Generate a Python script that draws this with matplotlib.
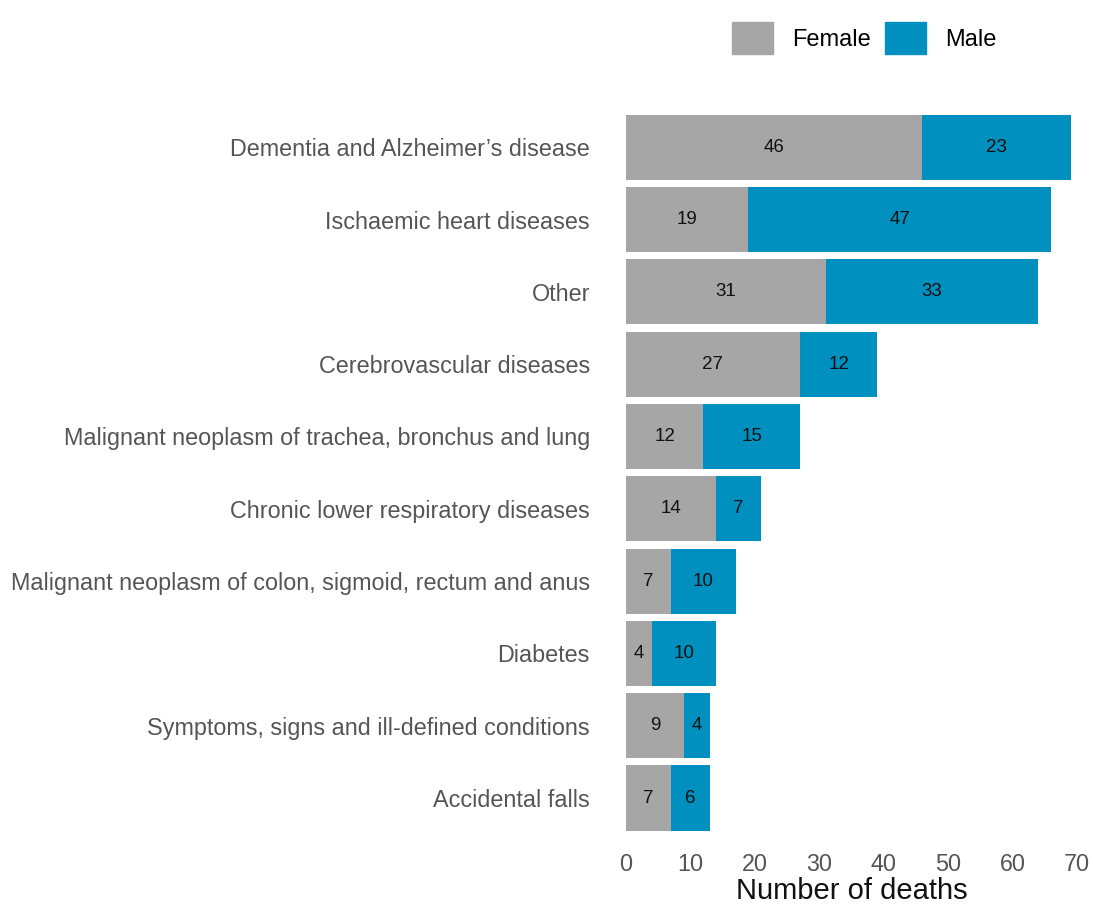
import numpy as np
import matplotlib.pyplot as plt
from matplotlib.patches import Patch

plt.rcParams['font.family'] = ['Liberation Sans', 'DejaVu Sans']

causes = ["Dementia and Alzheimer\u2019s disease",
          "Ischaemic heart diseases",
          "Other",
          "Cerebrovascular diseases",
          "Malignant neoplasm of trachea, bronchus and lung",
          "Chronic lower respiratory diseases",
          "Malignant neoplasm of colon, sigmoid, rectum and anus",
          "Diabetes",
          "Symptoms, signs and ill-defined conditions",
          "Accidental falls"]
female = [46, 19, 31, 27, 12, 14, 7, 4, 9, 7]
male = [23, 47, 33, 12, 15, 7, 10, 10, 4, 6]

grey = '#A6A6A6'
blue = '#0090C0'

fig = plt.figure(figsize=(10.93, 9.07), dpi=100)
ax = fig.add_axes([626/1093, 1 - 841.4/907, (1077-626)/1093, 737.5/907])

y = np.arange(len(causes))
bf = ax.barh(y, female, height=0.9, color=grey)
bm = ax.barh(y, male, left=female, height=0.9, color=blue)
ax.bar_label(bf, labels=[str(v) for v in female], label_type='center', fontsize=13.5, color='#111111')
ax.bar_label(bm, labels=[str(v) for v in male], label_type='center', fontsize=13.5, color='#111111')

ax.set_xlim(0, 70)
ax.set_ylim(len(causes) - 0.4, -0.6)
ax.set_yticks(y)
ax.set_yticklabels(causes)
ax.set_xticks(np.arange(0, 71, 10))
ax.tick_params(axis='y', length=0, pad=26, labelsize=16.8, labelcolor='#555555')
ax.tick_params(axis='x', length=0, pad=8, labelsize=16.8, labelcolor='#555555')
for s in ax.spines.values():
    s.set_visible(False)
ax.set_xlabel('Number of deaths', fontsize=21, color='#111111', labelpad=1)

handles = [Patch(color=grey, label='Female'), Patch(color=blue, label='Male')]
fig.legend(handles=handles, loc='center', bbox_to_anchor=(864/1093, 1 - 38/907),
           ncol=2, frameon=False, fontsize=17, handlelength=1.75, handleheight=1.75,
           handletextpad=0.8, columnspacing=0.6)

fig.savefig('out.png', dpi=100)
